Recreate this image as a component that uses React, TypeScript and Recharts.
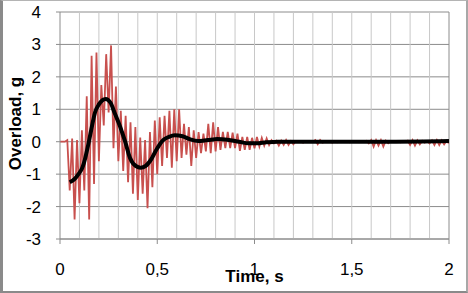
import React from 'react';
import { LineChart, Line, XAxis, YAxis, CartesianGrid, ReferenceLine } from 'recharts';

// Sampling step of the measured signal (s)
const STEP = 0.0125;

// Measured overload (g), one value per STEP starting at t = 0
const measuredOverload: number[] = [
  0, 0, 0, 0.05, -1.5, 0.1, -2.4, 0.05,
  -1.9, 0.35, -1.5, 1.4, -2.4, 2.65, -1.3, 2.75,
  -0.6, 1.75, 0.5, 2.7, 0.9, 2.97, -0.2, 1.7,
  -0.6, 0.95, -0.9, 0.8, -1.25, 0.6, -1.6, 0.45,
  -1.8, 0.13, -1.6, 0.05, -2.05, 0.3, -1.4, 0.65,
  -1.0, 0.75, -0.75, 0.8, -0.5, 0.95, -0.8, 1.0,
  -0.6, 1.0, -0.5, 0.55, -0.4, 0.45, -0.75, 0.35,
  -0.5, 0.3, -0.35, 0.25, -0.3, 0.55, -0.35, 0.6,
  -0.3, 0.45, -0.25, 0.3, -0.2, 0.3, -0.2, 0.28,
  -0.2, 0.25, -0.28, 0.15, -0.25, 0.15, -0.25, 0.12,
  -0.2, 0.15, -0.15, 0.12, -0.12, 0.1, -0.1, 0.05,
  -0.05, 0.03, -0.12, 0.03, -0.1, 0.05, -0.1, 0.02,
  -0.08, 0.02, 0, 0, -0.03, 0.02, 0, 0,
  0, 0.05, -0.08, 0.05, -0.03, 0, 0, 0.02,
  -0.03, 0.02, -0.02, 0, 0, 0, 0.02, -0.02,
  0, 0, 0.02, -0.02, 0, 0, 0.03, -0.05,
  0.05, -0.15, 0.05, -0.12, 0.05, -0.15, 0.03, -0.05,
  0.02, 0, 0, 0.02, -0.02, 0, 0, 0.03,
  -0.1, 0.05, -0.12, 0.04, -0.08, 0.03, -0.03, 0.02,
  -0.05, 0.04, -0.1, 0.05, -0.1, 0.04, -0.08, 0.03,
  -0.05,
];

// Smoothed (filtered) overload curve
const smoothTimes: number[] = [
  0.05, 0.075, 0.095, 0.115, 0.13, 0.145, 0.16, 0.18, 0.2, 0.235,
  0.26, 0.28, 0.31, 0.335, 0.36, 0.39, 0.415, 0.44, 0.465, 0.5,
  0.53, 0.56, 0.59, 0.63, 0.67, 0.71, 0.76, 0.81, 0.86, 0.92,
  0.97, 1.01, 1.06, 1.12, 1.3, 1.5, 1.7, 2.0,
];
const smoothValues: number[] = [
  -1.25, -1.15, -1.0, -0.8, -0.5, -0.1, 0.35, 0.9, 1.15, 1.32,
  1.2, 0.9, 0.45, 0.0, -0.5, -0.75, -0.8, -0.75, -0.58, -0.2,
  0.05, 0.15, 0.2, 0.17, 0.07, 0.02, 0.05, 0.08, 0.06, 0.0,
  -0.05, -0.05, -0.02, 0.0, 0.0, 0.0, 0.0, 0.02,
];

// Axis ticks
const xTicks: number[] = [0, 0.5, 1, 1.5, 2];
const yTicks: number[] = [-3, -2, -1, 0, 1, 2, 3, 4];
const minorGridTimes: number[] = [
  0.1, 0.2, 0.3, 0.4, 0.5, 0.6, 0.7, 0.8, 0.9, 1.0,
  1.1, 1.2, 1.3, 1.4, 1.5, 1.6, 1.7, 1.8, 1.9,
];

const measuredData = measuredOverload.map((v, i) => ({ t: i * STEP, v }));
const smoothData = smoothTimes.map((t, i) => ({ t, v: smoothValues[i] }));

const FONT = '"Liberation Sans", Arial, sans-serif';

const YTitle = (props: any) => {
  const vb = props.viewBox || {};
  const cx = 15;
  const cy = (vb.y || 0) + (vb.height || 0) / 2 - 2;
  return (
    <text
      x={cx}
      y={cy}
      transform={`rotate(-90, ${cx}, ${cy})`}
      textAnchor="middle"
      dominantBaseline="central"
      fontFamily={FONT}
      fontWeight="bold"
      fontSize={17}
      fill="#000"
    >
      Overload, g
    </text>
  );
};

export default function App() {
  return (
    <div style={{ position: 'absolute', left: 0, top: 0, width: 468, height: 293, background: '#fff' }}>
      <LineChart
        width={468}
        height={293}
        margin={{ top: 12, right: 19, bottom: 24, left: 0 }}
        style={{ fontFamily: FONT }}
      >
        <CartesianGrid vertical={false} stroke="#8c8c8c" strokeWidth={1} />
        {minorGridTimes.map((t) => (
          <ReferenceLine key={t} x={t} stroke="#c8c8c8" strokeWidth={1} ifOverflow="extendDomain" />
        ))}
        <ReferenceLine x={2} stroke="#8c8c8c" strokeWidth={1} />
        <XAxis
          type="number"
          dataKey="t"
          domain={[0, 2]}
          ticks={xTicks}
          tickFormatter={(v: number) => String(v).replace('.', ',')}
          tick={{ fontSize: 17, fill: '#000', fontFamily: FONT }}
          tickSize={5}
          tickMargin={19}
          stroke="#8c8c8c"
          height={30}
          allowDataOverflow
          label={{
            value: 'Time, s',
            position: 'bottom',
            offset: 1,
            style: { fontSize: 17, fontWeight: 'bold', fill: '#000', fontFamily: FONT },
          }}
        />
        <YAxis
          type="number"
          domain={[-3, 4]}
          ticks={yTicks}
          tick={{ fontSize: 17, fill: '#000', fontFamily: FONT }}
          tickSize={4}
          tickMargin={15}
          stroke="#8c8c8c"
          width={60}
          interval={0}
          allowDataOverflow
          label={<YTitle />}
        />
        <Line
          data={measuredData}
          dataKey="v"
          type="linear"
          stroke="#C8504E"
          strokeWidth={1.8}
          dot={false}
          isAnimationActive={false}
        />
        <Line
          data={smoothData}
          dataKey="v"
          type="monotone"
          stroke="#000"
          strokeWidth={4}
          dot={false}
          isAnimationActive={false}
        />
      </LineChart>
      <div
        style={{
          position: 'absolute',
          left: 0,
          top: 0,
          width: 468,
          height: 293,
          boxSizing: 'border-box',
          borderLeft: '3px solid #8a8a8a',
          borderBottom: '2px solid #8a8a8a',
          borderTop: '1px solid #b4b4b4',
          borderRight: '2px solid #a8a8a8',
          pointerEvents: 'none',
        }}
      />
    </div>
  );
}
